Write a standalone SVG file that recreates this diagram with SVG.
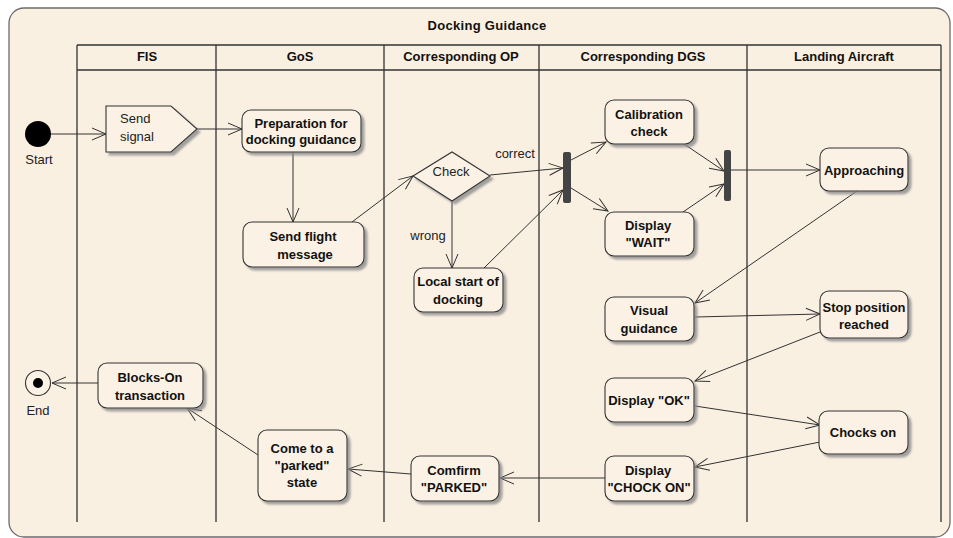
<svg xmlns="http://www.w3.org/2000/svg" width="953" height="538" viewBox="0 0 953 538">
<style>
.frame{fill:#FAF0E2;stroke:#6b6b6b;stroke-width:1.3}
.lane{fill:none;stroke:#333;stroke-width:1.3}
.node{fill:#FBF2E5;stroke:#333;stroke-width:1.1;filter:url(#sh)}
.t{font-family:"Liberation Sans",Arial,sans-serif;font-size:13px;fill:#111;text-anchor:middle}
.b{font-weight:bold}
.r{font-family:"Liberation Sans",Arial,sans-serif;font-size:13px;fill:#222;text-anchor:middle}
.e{fill:none;stroke:#333;stroke-width:1;marker-end:url(#ah)}
.bar{fill:#444;stroke:none}
</style>
<defs>
<filter id="sh" x="-10%" y="-10%" width="130%" height="140%">
<feDropShadow dx="3" dy="3" stdDeviation="1.2" flood-color="#8a8a8a" flood-opacity="0.8"/>
</filter>
<marker id="ah" markerUnits="userSpaceOnUse" markerWidth="16" markerHeight="14" refX="15" refY="7" orient="auto">
<path d="M1,1 L15,7 L1,13" fill="none" stroke="#333" stroke-width="1"/>
</marker>
</defs>

<g id="frame">
<rect class="frame" x="9" y="8" width="941" height="529" rx="15"/>
<text class="t b" x="487" y="30" letter-spacing="0.3">Docking Guidance</text>
</g>

<g id="lanes">
<path class="lane" d="M77,45 H941 M77,70 H941 M77,45 V522 M216,45 V522 M384,45 V522 M539,45 V522 M747,45 V522 M941,45 V522"/>
<text class="t b" x="147" y="61">FIS</text>
<text class="t b" x="300" y="61">GoS</text>
<text class="t b" x="461" y="61">Corresponding OP</text>
<text class="t b" x="643" y="61">Corresponding DGS</text>
<text class="t b" x="844" y="61">Landing Aircraft</text>
</g>

<g id="connectors">
<line class="e" x1="51" y1="134" x2="106" y2="134"/>
<line class="e" x1="197" y1="129" x2="242" y2="129"/>
<line class="e" x1="293" y1="152" x2="293" y2="222"/>
<line class="e" x1="352" y1="222" x2="413" y2="176"/>
<line class="e" x1="490" y1="175" x2="563" y2="168"/>
<text class="r" x="515" y="158">correct</text>
<line class="e" x1="452" y1="201" x2="452" y2="268"/>
<text class="r" x="428" y="240">wrong</text>
<line class="e" x1="484" y1="268" x2="563" y2="190"/>
<line class="e" x1="571" y1="160" x2="606" y2="142"/>
<line class="e" x1="571" y1="188" x2="608" y2="211"/>
<line class="e" x1="684" y1="144" x2="724" y2="171"/>
<line class="e" x1="683" y1="212" x2="724" y2="184"/>
<line class="e" x1="731" y1="170" x2="820" y2="170"/>
<line class="e" x1="857" y1="191" x2="695" y2="303"/>
<line class="e" x1="695" y1="317" x2="820" y2="314"/>
<line class="e" x1="820" y1="332" x2="695" y2="381"/>
<line class="e" x1="695" y1="406" x2="820" y2="425"/>
<line class="e" x1="820" y1="442" x2="695" y2="467"/>
<line class="e" x1="605" y1="478" x2="500" y2="478"/>
<line class="e" x1="411" y1="474" x2="348" y2="469"/>
<line class="e" x1="258" y1="455" x2="187" y2="408"/>
<line class="e" x1="98" y1="383" x2="52" y2="383"/>
</g>

<g id="start">
<circle cx="38" cy="134" r="13" fill="#000"/>
<text class="r" x="39" y="164">Start</text>
</g>

<g id="end">
<circle cx="38" cy="383" r="12.5" fill="#FBF2E5" stroke="#333" stroke-width="1.1"/>
<circle cx="38" cy="383" r="5" fill="#000"/>
<text class="r" x="38" y="415">End</text>
</g>

<g id="send-signal">
<path class="node" d="M106,106 L171,106 L197,129 L171,152 L106,152 Z"/>
<text class="r" x="120" y="123" style="text-anchor:start">Send</text>
<text class="r" x="120" y="141" style="text-anchor:start">signal</text>
</g>

<g id="prep">
<rect class="node" x="242" y="110" width="119" height="42" rx="9"/>
<text class="t b" x="301" y="128">Preparation for</text>
<text class="t b" x="301" y="144">docking guidance</text>
</g>

<g id="send-flight">
<rect class="node" x="243" y="222" width="121" height="45" rx="9"/>
<text class="t b" x="303" y="241">Send flight</text>
<text class="t b" x="305" y="259">message</text>
</g>

<g id="check">
<path class="node" d="M413,176 L452,152 L490,176 L452,201 Z"/>
<text class="r" x="451" y="176">Check</text>
</g>

<g id="local-start">
<rect class="node" x="414" y="268" width="89" height="44" rx="9"/>
<text class="t b" x="458" y="286">Local start of</text>
<text class="t b" x="458" y="304">docking</text>
</g>

<g id="fork">
<rect class="bar" x="563" y="152" width="8" height="51" rx="2"/>
</g>

<g id="join">
<rect class="bar" x="724" y="150" width="7" height="51" rx="2"/>
</g>

<g id="calibration">
<rect class="node" x="605" y="100" width="89" height="44" rx="9"/>
<text class="t b" x="649" y="119">Calibration</text>
<text class="t b" x="649" y="136">check</text>
</g>

<g id="display-wait">
<rect class="node" x="605" y="212" width="89" height="44" rx="9"/>
<text class="t b" x="648" y="230">Display</text>
<text class="t b" x="648" y="247">"WAIT"</text>
</g>

<g id="approaching">
<rect class="node" x="820" y="148" width="88" height="43" rx="9"/>
<text class="t b" x="864" y="175">Approaching</text>
</g>

<g id="visual-guidance">
<rect class="node" x="605" y="297" width="89" height="44" rx="9"/>
<text class="t b" x="649" y="315">Visual</text>
<text class="t b" x="649" y="333">guidance</text>
</g>

<g id="stop-position">
<rect class="node" x="820" y="291" width="88" height="47" rx="9"/>
<text class="t b" x="864" y="312">Stop position</text>
<text class="t b" x="864" y="329">reached</text>
</g>

<g id="display-ok">
<rect class="node" x="605" y="378" width="89" height="44" rx="9"/>
<text class="t b" x="649" y="405">Display "OK"</text>
</g>

<g id="chocks-on">
<rect class="node" x="819" y="411" width="89" height="43" rx="9"/>
<text class="t b" x="863" y="437">Chocks on</text>
</g>

<g id="display-chock-on">
<rect class="node" x="605" y="456" width="89" height="45" rx="9"/>
<text class="t b" x="648" y="475">Display</text>
<text class="t b" x="649" y="492">"CHOCK ON"</text>
</g>

<g id="confirm-parked">
<rect class="node" x="411" y="456" width="88" height="45" rx="9"/>
<text class="t b" x="454" y="475">Comfirm</text>
<text class="t b" x="454" y="492">"PARKED"</text>
</g>

<g id="parked-state">
<rect class="node" x="258" y="430" width="89" height="71" rx="9"/>
<text class="t b" x="302" y="453">Come to a</text>
<text class="t b" x="302" y="470">"parked"</text>
<text class="t b" x="302" y="487">state</text>
</g>

<g id="blocks-on">
<rect class="node" x="98" y="363" width="105" height="45" rx="9"/>
<text class="t b" x="150" y="382">Blocks-On</text>
<text class="t b" x="150" y="400">transaction</text>
</g>
</svg>
